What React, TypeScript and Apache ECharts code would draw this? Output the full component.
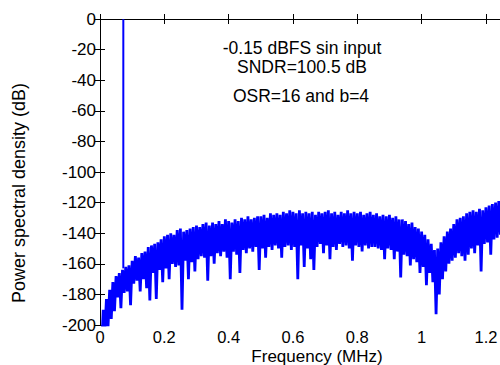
import React, { useEffect, useRef } from "react";
import * as echarts from "echarts";

// FFT bin spacing of the plotted spectrum (MHz)
const FREQ_STEP = 0.005;

// Power spectral density per bin (dB), bins 0 .. 1.25 MHz
const PSD_DB: number[] = [
  -207, -216, -190, -205, -183, -201, -177, -196, -172, -191,
  -168, -182, -166, -189, -164, -179, -162, -178, -161, -187,
  -158, -173, -155, -171, -156, -178, -153, -170, -152, -176,
  -149, -184, -148, -166, -147, -183, -146, -164, -144, -172,
  -142, -163, -141, -170, -140, -160, -141, -162, -138, -161,
  -137, -190, -139, -158, -138, -170, -137, -159, -136, -165,
  -135, -157, -136, -155, -134, -156, -133, -171, -135, -155,
  -133, -160, -134, -153, -132, -155, -134, -152, -131, -156,
  -132, -170, -133, -152, -131, -154, -132, -166, -130, -151,
  -131, -153, -129, -150, -131, -152, -130, -149, -129, -164,
  -129, -150, -128, -156, -130, -149, -127, -151, -128, -148,
  -127, -150, -128, -156, -126, -149, -127, -148, -125, -151,
  -126, -149, -127, -170, -125, -148, -127, -162, -126, -150,
  -127, -157, -126, -164, -128, -149, -126, -147, -127, -153,
  -126, -148, -125, -157, -127, -149, -126, -151, -128, -147,
  -126, -149, -127, -148, -125, -150, -127, -158, -126, -148,
  -127, -149, -126, -152, -128, -148, -127, -150, -126, -149,
  -128, -149, -127, -150, -129, -151, -128, -157, -129, -150,
  -128, -151, -130, -157, -129, -152, -131, -169, -131, -154,
  -132, -155, -134, -161, -133, -157, -136, -159, -137, -166,
  -139, -162, -141, -174, -144, -166, -147, -172, -151, -193,
  -150, -180, -146, -170, -142, -165, -139, -160, -137, -158,
  -134, -156, -131, -153, -130, -155, -129, -158, -127, -154,
  -126, -150, -125, -153, -126, -148, -124, -165, -125, -147,
  -123, -146, -122, -154, -121, -144, -120, -143, -119, -141,
  -120,
];

// Input tone
const SIGNAL_FREQ = 0.0725; // MHz
const SIGNAL_DB = -0.15;
const SIGNAL_BASE_DB = -163;

const X_MIN = 0;
const X_MAX = 1.25;
const X_INTERVAL = 0.2;
const Y_MIN = -200;
const Y_MAX = 0;
const Y_INTERVAL = 20;

const ANNOTATIONS = ["-0.15 dBFS sin input", "SNDR=100.5 dB", "OSR=16 and b=4"];
const X_TITLE = "Frequency (MHz)";
const Y_TITLE = "Power spectral density (dB)";

const FONT = '"Liberation Sans", Arial, Helvetica, sans-serif';

export default function App() {
  const ref = useRef<HTMLDivElement>(null);

  useEffect(() => {
    if (!ref.current) return;
    const chart = echarts.init(ref.current, undefined, { renderer: "svg" });

    const psd = PSD_DB.map((v, i) => [i * FREQ_STEP, v]);
    const tone = [
      [SIGNAL_FREQ, SIGNAL_BASE_DB],
      [SIGNAL_FREQ, SIGNAL_DB],
    ];

    const axisLine = { show: true, lineStyle: { color: "#000", width: 1 } };
    const tick = { show: true, inside: true, length: 5, lineStyle: { color: "#000", width: 1 } };
    const textStyle = (size: number) => ({ font: `${size}px ${FONT}`, fill: "#000", align: "center", verticalAlign: "middle" });

    chart.setOption({
      animation: false,
      backgroundColor: "#fff",
      grid: { left: 100, top: 19, right: 0, bottom: 40, outerBoundsMode: "none" },
      xAxis: [
        {
          type: "value",
          min: X_MIN,
          max: X_MAX,
          interval: X_INTERVAL,
          position: "bottom",
          axisLine,
          axisTick: tick,
          splitLine: { show: false },
          axisLabel: {
            color: "#000",
            fontFamily: FONT,
            fontSize: 16.5,
            margin: 3,
            showMaxLabel: false,
            formatter: (v: number) => (v > 1.21 ? "" : String(+v.toFixed(1))),
          },
        },
        {
          type: "value",
          min: X_MIN,
          max: X_MAX,
          interval: X_INTERVAL,
          position: "top",
          axisLine,
          axisTick: tick,
          splitLine: { show: false },
          axisLabel: { show: false },
        },
      ],
      yAxis: [
        {
          type: "value",
          min: Y_MIN,
          max: Y_MAX,
          interval: Y_INTERVAL,
          position: "left",
          axisLine,
          axisTick: tick,
          splitLine: { show: false },
          axisLabel: {
            color: "#000",
            fontFamily: FONT,
            fontSize: 17,
            margin: 4,
          },
        },
        {
          type: "value",
          min: Y_MIN,
          max: Y_MAX,
          interval: Y_INTERVAL,
          position: "right",
          axisLine,
          axisTick: tick,
          splitLine: { show: false },
          axisLabel: { show: false },
        },
      ],
      series: [
        {
          type: "line",
          data: psd,
          xAxisIndex: 0,
          yAxisIndex: 0,
          showSymbol: false,
          symbol: "none",
          clip: true,
          lineStyle: { color: "#0000ff", width: 2.8, join: "miter", miterLimit: 2 },
        },
        {
          type: "line",
          data: tone,
          xAxisIndex: 0,
          yAxisIndex: 0,
          showSymbol: false,
          symbol: "none",
          clip: true,
          lineStyle: { color: "#0000ff", width: 2 },
        },
      ],
      graphic: [
        { type: "text", x: 302, y: 48, style: { text: ANNOTATIONS[0], ...textStyle(17.5) } },
        { type: "text", x: 302, y: 67, style: { text: ANNOTATIONS[1], ...textStyle(17.5) } },
        { type: "text", x: 301, y: 96, style: { text: ANNOTATIONS[2], ...textStyle(17.5) } },
        { type: "text", x: 317, y: 356, style: { text: X_TITLE, ...textStyle(17) } },
        { type: "text", x: 19, y: 193, rotation: Math.PI / 2, style: { text: Y_TITLE, ...textStyle(18) } },
      ],
    });

    return () => chart.dispose();
  }, []);

  return (
    <div style={{ position: "fixed", left: 0, top: 0, width: 500, height: 365, overflow: "hidden", background: "#fff" }}>
      <div ref={ref} style={{ width: 502, height: 365 }} />
    </div>
  );
}
